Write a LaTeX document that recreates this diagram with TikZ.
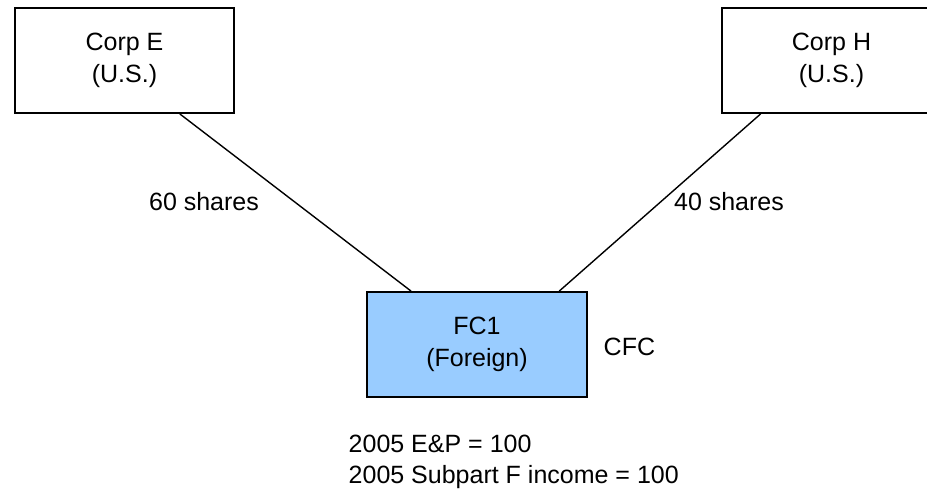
\documentclass[tikz,border=0pt]{standalone}
\usepackage{fontspec}
\setmainfont{Liberation Sans}
\usetikzlibrary{positioning}
\definecolor{fcblue}{HTML}{99CCFF}

\begin{document}
\begin{tikzpicture}[x=1pt,y=-1pt,line width=1.4pt,
  corp/.style={draw,line width=1.8pt,minimum width=219pt,minimum height=105pt,align=center,
    font=\fontsize{25}{32.7}\selectfont},
  txt/.style={inner sep=0pt,font=\fontsize{25}{31}\selectfont}]
\useasboundingbox (0,0) rectangle (927,488);

% the three corporations
\node[corp] (corpE) at (124.5,60.5) {Corp E\\(U.S.)};
\node[corp] (corpH) at (831.5,60.5) {Corp H\\(U.S.)};
\node[corp,fill=fcblue,minimum width=220pt] (fc) at (477,344.5) {FC1\\(Foreign)};

% ownership lines
\draw (corpE.-44) -- (fc.141);
\draw (corpH.217) -- (fc.33);

% share labels
\node[txt,anchor=base] (sharesE) at (204,210) {60 shares};
\node[txt,anchor=base] (sharesH) at (729,210) {40 shares};
\node[txt,anchor=base west] (cfc) at (603,355) {CFC};

% earnings
\node[txt,anchor=north west,align=left] (ep) at (348,434)
  {2005 E\&P = 100\\2005 Subpart F income = 100};
\end{tikzpicture}
\end{document}
